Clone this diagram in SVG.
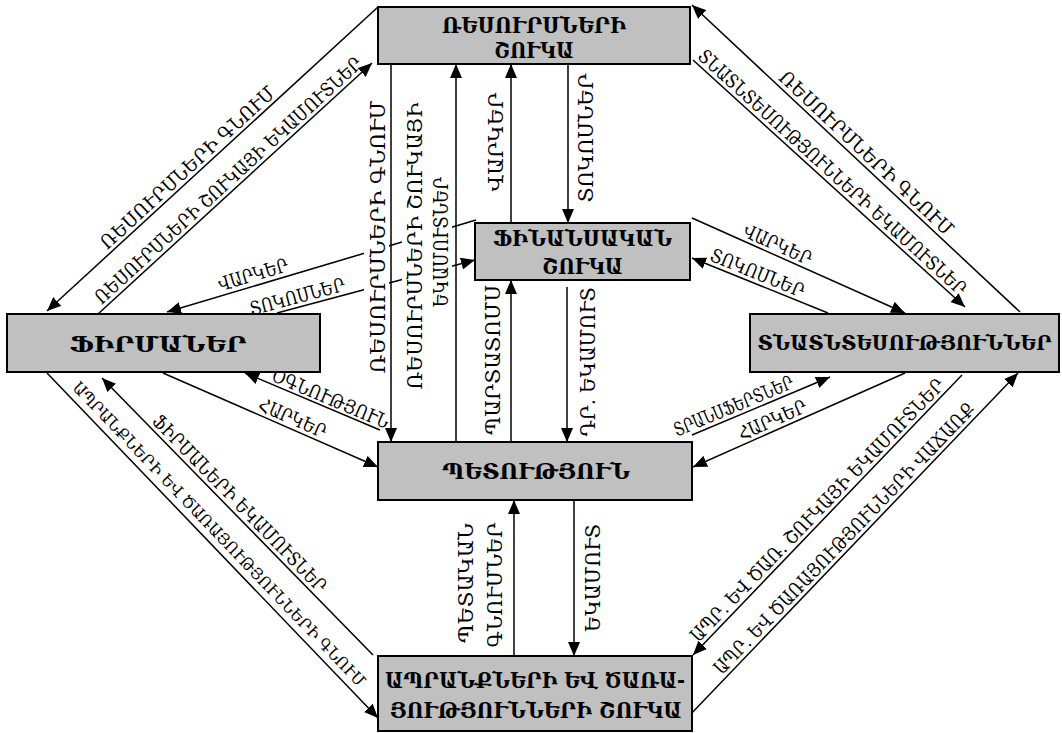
<svg xmlns="http://www.w3.org/2000/svg" width="1062" height="733" viewBox="0 0 1062 733">
<style>
.box{fill:#c0c0c0;stroke:#000;stroke-width:2}
.b{font-family:"DejaVu Serif","DejaVu Sans",serif;font-weight:bold;font-size:23px;text-anchor:middle;fill:#000}
.c{fill:none;stroke:#000;stroke-width:1.5;marker-end:url(#ah)}
.l{font-family:"DejaVu Serif","DejaVu Sans",serif;font-size:19px;text-anchor:middle;fill:#000}
.v{font-family:"DejaVu Serif","DejaVu Sans",serif;font-size:21px;text-anchor:middle;fill:#000}
.bg{fill:#fff}
</style>
<defs>
<marker id="ah" markerUnits="userSpaceOnUse" markerWidth="15" markerHeight="12" refX="14" refY="6" orient="auto">
<path d="M0,0 L14,6 L0,12 z" fill="#000"/>
</marker>
</defs>
<rect width="1062" height="733" fill="#fff"/>
<g id="connectors">
<path class="c" d="M378,7 L47,311"/>
<path class="c" d="M98,314 L372,63"/>
<path class="c" d="M476,220 L167,312"/>
<path class="c" d="M277,313 L475,260"/>
<path class="c" d="M1020,312 L692,5"/>
<path class="c" d="M693,60 L965,307"/>
<path class="c" d="M692,218 L905,313"/>
<path class="c" d="M828,313 L692,258"/>
<path class="c" d="M391,64 L391,442"/>
<path class="c" d="M456,442 L456,64"/>
<path class="c" d="M511,223 L511,64"/>
<path class="c" d="M568,64 L568,223"/>
<path class="c" d="M511,442 L511,280"/>
<path class="c" d="M567,287 L567,442"/>
<path class="c" d="M514,656 L514,500"/>
<path class="c" d="M574,500 L574,656"/>
<path class="c" d="M380,430 L245,373"/>
<path class="c" d="M163,373 L378,467"/>
<path class="c" d="M692,435 L830,377"/>
<path class="c" d="M905,373 L693,467"/>
<path class="c" d="M47,373 L378,718"/>
<path class="c" d="M373,655 L102,378"/>
<path class="c" d="M962,375 L693,655"/>
<path class="c" d="M688,717 L1018,373"/>
</g>
<g id="labels">
<rect class="bg" x="364" y="95" width="25" height="285"/>
<rect class="bg" x="402" y="98" width="50" height="297"/>
<text class="l" x="192" y="172.5" transform="rotate(-42.6 192 172.5)" textLength="230" lengthAdjust="spacingAndGlyphs">ՌԵՍՈՒՐՍՆԵՐԻ ԳՆՈՒՄ</text>
<text class="l" x="232.7" y="185.1" transform="rotate(-42.5 232.7 185.1)" textLength="355" lengthAdjust="spacingAndGlyphs">ՌԵՍՈՒՐՍՆԵՐԻ ՇՈՒԿԱՅԻ ԵԿԱՄՈՒՏՆԵՐ</text>
<text class="l" x="255" y="281" transform="rotate(-16.6 255 281)" textLength="72" lengthAdjust="spacingAndGlyphs">ՎԱՐԿԵՐ</text>
<text class="l" x="299" y="303" transform="rotate(-15 299 303)" textLength="98" lengthAdjust="spacingAndGlyphs">ՏՈԿՈՍՆԵՐ</text>
<text class="l" x="862" y="158" transform="rotate(43.1 862 158)" textLength="231" lengthAdjust="spacingAndGlyphs">ՌԵՍՈՒՐՍՆԵՐԻ ԳՆՈՒՄ</text>
<text class="l" x="828" y="177" transform="rotate(42.2 828 177)" textLength="355" lengthAdjust="spacingAndGlyphs">ՏՆԱՏՆՏԵՍՈՒԹՅՈՒՆՆԵՐԻ ԵԿԱՄՈՒՏՆԵՐ</text>
<text class="l" x="775" y="250.7" transform="rotate(24 775 250.7)" textLength="73" lengthAdjust="spacingAndGlyphs">ՎԱՐԿԵՐ</text>
<text class="l" x="755" y="279" transform="rotate(22 755 279)" textLength="100" lengthAdjust="spacingAndGlyphs">ՏՈԿՈՍՆԵՐ</text>
<text class="v" x="385" y="237" transform="rotate(-90 385 237)" textLength="273" lengthAdjust="spacingAndGlyphs">ՌԵՍՈՒՐՍՆԵՐԻ ԳՆՈՒՄ</text>
<text class="v" x="422" y="246" transform="rotate(-90 422 246)" textLength="287" lengthAdjust="spacingAndGlyphs">ՌԵՍՈՒՐՍՆԵՐԻ ՇՈՒԿԱՅԻ</text>
<text class="v" x="448" y="242" transform="rotate(-90 448 242)" textLength="130" lengthAdjust="spacingAndGlyphs">ԵԿԱՄՈՒՏՆԵՐ</text>
<text class="v" x="503" y="142" transform="rotate(-90 503 142)" textLength="99" lengthAdjust="spacingAndGlyphs">ՎԱՐԿԵՐ</text>
<text class="v" x="593" y="138" transform="rotate(-90 593 138)" textLength="129" lengthAdjust="spacingAndGlyphs">ՏՈԿՈՍՆԵՐ</text>
<text class="v" x="500" y="360" transform="rotate(-90 500 360)" textLength="150" lengthAdjust="spacingAndGlyphs">ՊԱՐՏԱՏՈՄՍ</text>
<text class="v" x="595" y="362" transform="rotate(-90 595 362)" textLength="149" lengthAdjust="spacingAndGlyphs">ԴՐ. ԵԿԱՄՈՒՏ</text>
<text class="v" x="473" y="583" transform="rotate(-90 473 583)" textLength="120" lengthAdjust="spacingAndGlyphs">ՊԵՏԱԿԱՆ</text>
<text class="v" x="502" y="585" transform="rotate(-90 502 585)" textLength="125" lengthAdjust="spacingAndGlyphs">ԳՆՈՒՄՆԵՐ</text>
<text class="v" x="600" y="578" transform="rotate(-90 600 578)" textLength="108" lengthAdjust="spacingAndGlyphs">ԵԿԱՄՈՒՏ</text>
<text class="l" x="328" y="404.7" transform="rotate(22.9 328 404.7)" textLength="125" lengthAdjust="spacingAndGlyphs">ՕԳՆՈՒԹՅՈՒՆ</text>
<text class="l" x="290" y="424" transform="rotate(23.6 290 424)" textLength="72" lengthAdjust="spacingAndGlyphs">ՀԱՐԿԵՐ</text>
<text class="l" x="736" y="412" transform="rotate(-22.8 736 412)" textLength="128" lengthAdjust="spacingAndGlyphs">ՏՐԱՆՍՖԵՐՏՆԵՐ</text>
<text class="l" x="775" y="426" transform="rotate(-23.9 775 426)" textLength="73" lengthAdjust="spacingAndGlyphs">ՀԱՐԿԵՐ</text>
<text class="l" x="215" y="538" transform="rotate(46.2 215 538)" style="font-size:16px" textLength="415" lengthAdjust="spacingAndGlyphs">ԱՊՐԱՆՔՆԵՐԻ ԵՎ ԾԱՌԱՅՈՒԹՅՈՒՆՆԵՐԻ ԳՆՈՒՄ</text>
<text class="l" x="235" y="508" transform="rotate(45.6 235 508)" textLength="240" lengthAdjust="spacingAndGlyphs">ՖԻՐՄԱՆԵՐԻ ԵԿԱՄՈՒՏՆԵՐ</text>
<text class="l" x="822" y="514.6" transform="rotate(-46.1 822 514.6)" textLength="357" lengthAdjust="spacingAndGlyphs">ԱՊՐ. ԵՎ ԾԱՌ. ՇՈՒԿԱՅԻ ԵԿԱՄՈՒՏՆԵՐ</text>
<text class="l" x="849" y="543" transform="rotate(-46.2 849 543)" textLength="368" lengthAdjust="spacingAndGlyphs">ԱՊՐ. ԵՎ ԾԱՌԱՅՈՒԹՅՈՒՆՆԵՐԻ ՎԱՃԱՌՔ</text>
</g>
<g id="resource-market">
<rect class="box" x="378" y="7" width="312" height="57"/>
<text class="b" x="534" y="33" textLength="184" lengthAdjust="spacingAndGlyphs">ՌԵՍՈՒՐՍՆԵՐԻ</text>
<text class="b" x="534" y="58" textLength="80" lengthAdjust="spacingAndGlyphs">ՇՈՒԿԱ</text>
</g>
<g id="financial-market">
<rect class="box" x="475" y="223" width="215" height="57"/>
<text class="b" x="582.5" y="246" textLength="179" lengthAdjust="spacingAndGlyphs">ՖԻՆԱՆՍԱԿԱՆ</text>
<text class="b" x="582.5" y="274" textLength="81" lengthAdjust="spacingAndGlyphs">ՇՈՒԿԱ</text>
</g>
<g id="firms">
<rect class="box" x="7" y="314" width="313" height="58"/>
<text class="b" x="158" y="352" textLength="177" lengthAdjust="spacingAndGlyphs">ՖԻՐՄԱՆԵՐ</text>
</g>
<g id="households">
<rect class="box" x="750" y="314" width="309" height="58"/>
<text class="b" x="904.5" y="350" style="font-size:19.5px" textLength="294" lengthAdjust="spacingAndGlyphs">ՏՆԱՏՆՏԵՍՈՒԹՅՈՒՆՆԵՐ</text>
</g>
<g id="state">
<rect class="box" x="378" y="442" width="314" height="58"/>
<text class="b" x="536" y="479" textLength="188" lengthAdjust="spacingAndGlyphs">ՊԵՏՈՒԹՅՈՒՆ</text>
</g>
<g id="goods-market">
<rect class="box" x="378" y="656" width="314" height="75"/>
<text class="b" x="535" y="688" textLength="300" lengthAdjust="spacingAndGlyphs">ԱՊՐԱՆՔՆԵՐԻ ԵՎ ԾԱՌԱ-</text>
<text class="b" x="536" y="718" textLength="292" lengthAdjust="spacingAndGlyphs">ՅՈՒԹՅՈՒՆՆԵՐԻ ՇՈՒԿԱ</text>
</g>
</svg>
